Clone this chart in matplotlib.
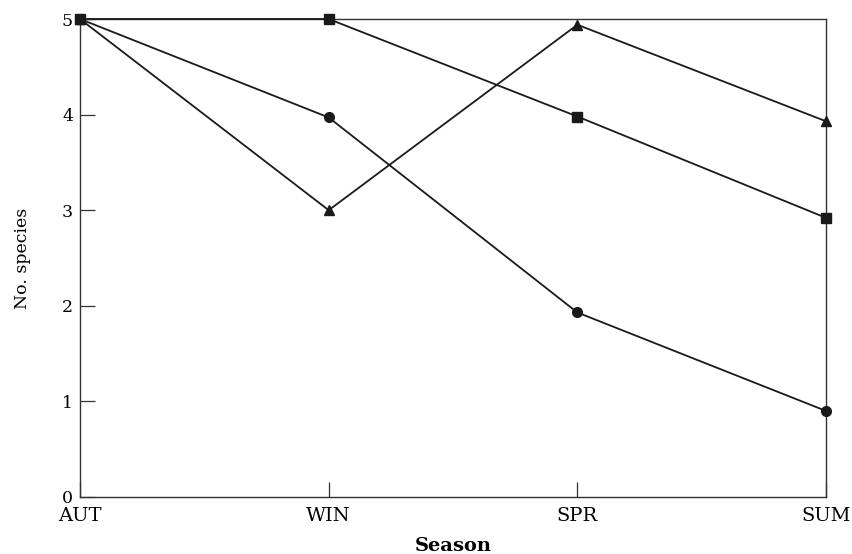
import matplotlib.pyplot as plt

seasons = ['AUT', 'WIN', 'SPR', 'SUM']
circle_species = [5, 3.97, 1.93, 0.9]
square_species = [5, 5, 3.98, 2.92]
triangle_species = [5, 3.0, 4.94, 3.93]

plt.rcParams['font.family'] = ['DejaVu Serif']

fig = plt.figure(figsize=(8.53, 5.54), dpi=100)
ax = fig.add_axes([0.0938, 0.1029, 0.8746, 0.8628])

x = range(len(seasons))
style = dict(color='#1a1a1a', linewidth=1.3, clip_on=False, zorder=3)
ax.plot(x, circle_species, marker='o', markersize=7, **style)
ax.plot(x, triangle_species, marker='^', markersize=7.5, **style)
ax.plot(x, square_species, marker='s', markersize=6.5, **style)

ax.set_xlim(0, 3)
ax.set_ylim(0, 5)
ax.set_xticks(list(x))
ax.set_xticklabels(seasons)
ax.set_yticks(range(6))

ax.tick_params(direction='in', length=11, width=0.9, color='#333333')
ax.tick_params(axis='y', labelsize=12.5, pad=5)
ax.tick_params(axis='x', labelsize=14, pad=7.5)
for side in ax.spines.values():
    side.set_linewidth(1.0)
    side.set_color('#333333')

ax.set_xlabel('Season', fontsize=14, fontweight='bold', labelpad=8)
ax.set_ylabel('No. species', fontsize=12.5, labelpad=22)

fig.savefig('out.png', dpi=100)
